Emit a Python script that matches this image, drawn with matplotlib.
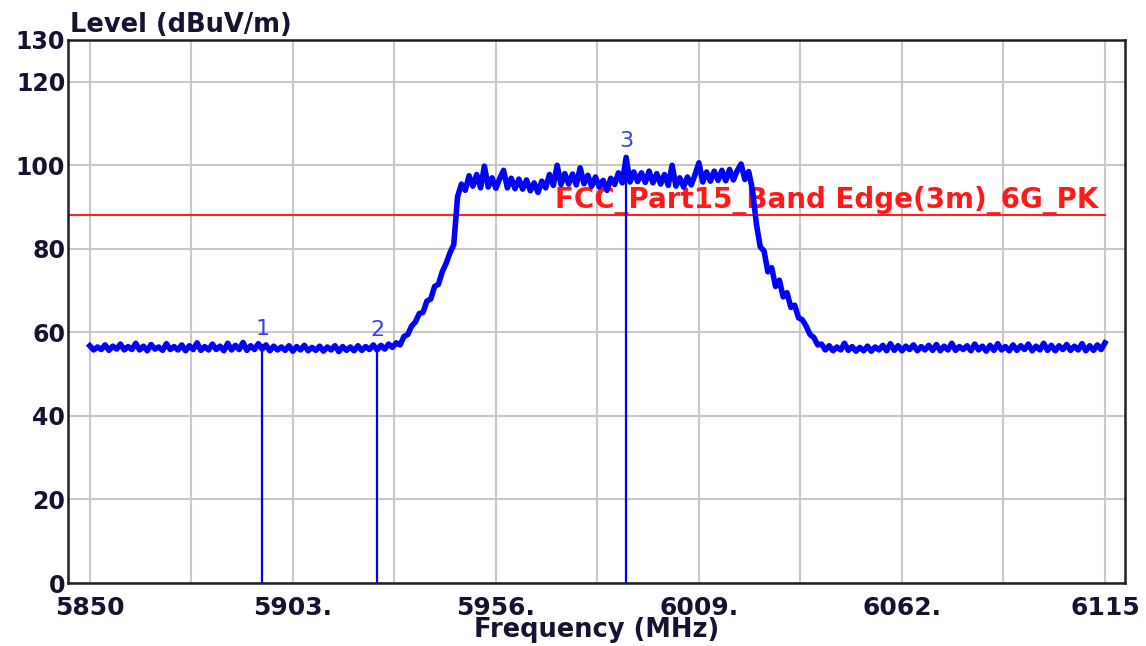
import numpy as np
import matplotlib
matplotlib.use("Agg")
import matplotlib.pyplot as plt

# trace, 1 MHz steps starting at 5850 MHz
floor_left = [
    56.8, 55.8, 56.5, 55.9, 57.0, 55.7, 56.7, 56.0, 57.2, 55.8,
    56.6, 55.9, 57.4, 55.8, 56.7, 55.6, 57.1, 56.0, 56.5, 55.7,
    57.3, 55.9, 56.6, 55.8, 57.0, 55.6, 56.8, 55.9, 57.5, 55.7,
    56.6, 55.8, 57.2, 55.9, 56.7, 55.6, 57.4, 55.8, 56.9, 55.9,
    57.6, 55.7, 56.8, 55.9, 57.3, 56.0, 57.0, 55.6, 56.7, 55.8,
    56.5, 55.7, 56.8, 55.5, 56.6, 55.8, 56.9, 55.6, 56.4, 55.7,
    56.7, 55.5, 56.5, 55.8, 56.8, 55.4, 56.6, 55.7, 56.5, 55.6,
    56.8, 55.7, 56.6, 55.9, 57.0, 55.8, 56.9, 56.0, 57.2, 56.4,
]
rise = [
    57.5, 57.0, 59.0, 59.5, 61.5, 62.5, 64.5, 64.8, 67.5, 68.0,
    71.0, 71.5, 74.5, 76.5, 79.0, 81.0, 92.5, 95.5, 94.0, 97.5,
    95.0,
]
band_top = [
    97.8, 94.6, 99.8, 94.8, 97.0, 94.5, 96.8, 98.8, 94.6, 96.9,
    94.4, 96.7, 94.3, 96.5, 93.9, 95.8, 93.5, 96.2, 94.6, 97.8,
    95.2, 100.0, 95.4, 98.0, 95.5, 97.9, 95.3, 99.4, 95.6, 97.6,
    95.0, 97.2, 94.8, 96.4, 94.0, 96.9, 95.4, 98.2, 95.8, 101.9,
    96.0, 98.4, 96.1, 98.2, 95.9, 98.6, 95.8, 98.0, 95.5, 97.8,
    95.2, 100.0, 95.0, 97.0, 94.8, 97.2, 95.3, 97.8, 100.6, 96.0,
    98.4, 96.2, 98.6, 96.4, 98.8, 96.3, 99.0, 96.5, 98.7, 100.3,
    96.6, 98.5, 94.0,
]
fall = [
    86.0, 80.5, 79.5, 74.5, 75.5, 71.0, 72.5, 68.5, 69.5, 66.0,
    66.5, 63.5, 63.0, 61.5, 59.5, 58.8, 57.0, 57.2, 55.8,
]
floor_right = [
    56.8, 55.6, 56.5, 55.8, 57.4, 55.7, 56.6, 55.5,
    56.4, 55.6, 56.7, 55.5, 56.5, 55.8, 56.9, 55.6, 57.3, 55.7,
    56.8, 55.6, 56.7, 55.9, 57.0, 55.6, 56.6, 55.8, 56.9, 55.7,
    57.1, 55.6, 56.7, 55.8, 57.4, 55.7, 56.6, 55.9, 56.8, 55.6,
    57.2, 55.8, 56.7, 55.5, 56.9, 55.7, 57.3, 55.8, 56.6, 55.6,
    57.0, 55.7, 56.8, 55.9, 57.2, 55.6, 56.7, 55.8, 57.4, 55.7,
    56.9, 55.6, 56.8, 55.9, 57.1, 55.7, 56.7, 55.8, 57.3, 55.6,
    56.8, 55.7, 57.0, 55.9, 57.5,
]
level_dbuv = floor_left + rise + band_top + fall + floor_right
freq_mhz = 5850 + np.arange(len(level_dbuv))

marker_freq = [5895, 5925, 5990]
marker_level = [57.0, 56.6, 101.9]
marker_names = ["1", "2", "3"]

limit_level = 88.2
limit_name = "FCC_Part15_Band Edge(3m)_6G_PK"

x_ticks = [5850, 5903, 5956, 6009, 6062, 6115]
x_labels = ["5850", "5903.", "5956.", "6009.", "6062.", "6115"]
y_ticks = [0, 20, 40, 60, 80, 100, 120, 130]

text_col = "#141432"

fig = plt.figure(figsize=(11.46, 6.46), dpi=100)
ax = fig.add_axes([0.0593, 0.0975, 0.9223, 0.8406])

ax.set_xlim(5844.3, 6120.2)
ax.set_ylim(0, 130)

ax.set_xticks(x_ticks)
ax.set_xticklabels(x_labels)
ax.set_xticks(np.arange(5876.5, 6115, 53), minor=True)
ax.set_yticks(y_ticks)
ax.grid(which="both", color="#c8c8c8", linewidth=1.5, zorder=0)
ax.set_axisbelow(True)

ax.tick_params(which="both", length=0)
ax.tick_params(axis="x", pad=9, labelsize=18, labelcolor=text_col)
ax.tick_params(axis="y", pad=2, labelsize=17, labelcolor=text_col)
for lab in ax.get_xticklabels() + ax.get_yticklabels():
    lab.set_fontweight("bold")

for s in ax.spines.values():
    s.set_linewidth(1.8)
    s.set_color("#202020")

# limit line and its name
ax.plot([5844.3, 6115], [limit_level, limit_level], color="#ff2020", lw=1.5, zorder=2)
ax.text(6113.2, limit_level + 1.6, limit_name, color="#ff1a1a", fontsize=20,
        fontweight="bold", ha="right", va="baseline", zorder=2)

# trace
ax.plot(freq_mhz, level_dbuv, color="#0000ff", lw=4, zorder=3)

# markers
for f, lv, nm in zip(marker_freq, marker_level, marker_names):
    ax.plot([f, f], [0, lv], color="#0000ff", lw=1.6, zorder=4)
    ax.text(f, lv + 1.5, nm, color="#3c3cf0", fontsize=16, ha="center",
            va="bottom", zorder=4)

fig.text(70 / 1146, 1 - 32 / 646, "Level (dBuV/m)", fontsize=18.5,
         fontweight="bold", color=text_col, ha="left", va="baseline")
fig.text(597 / 1146, 1 - 637 / 646, "Frequency (MHz)", fontsize=18.5,
         fontweight="bold", color=text_col, ha="center", va="baseline")

fig.savefig("out.png", dpi=100)
